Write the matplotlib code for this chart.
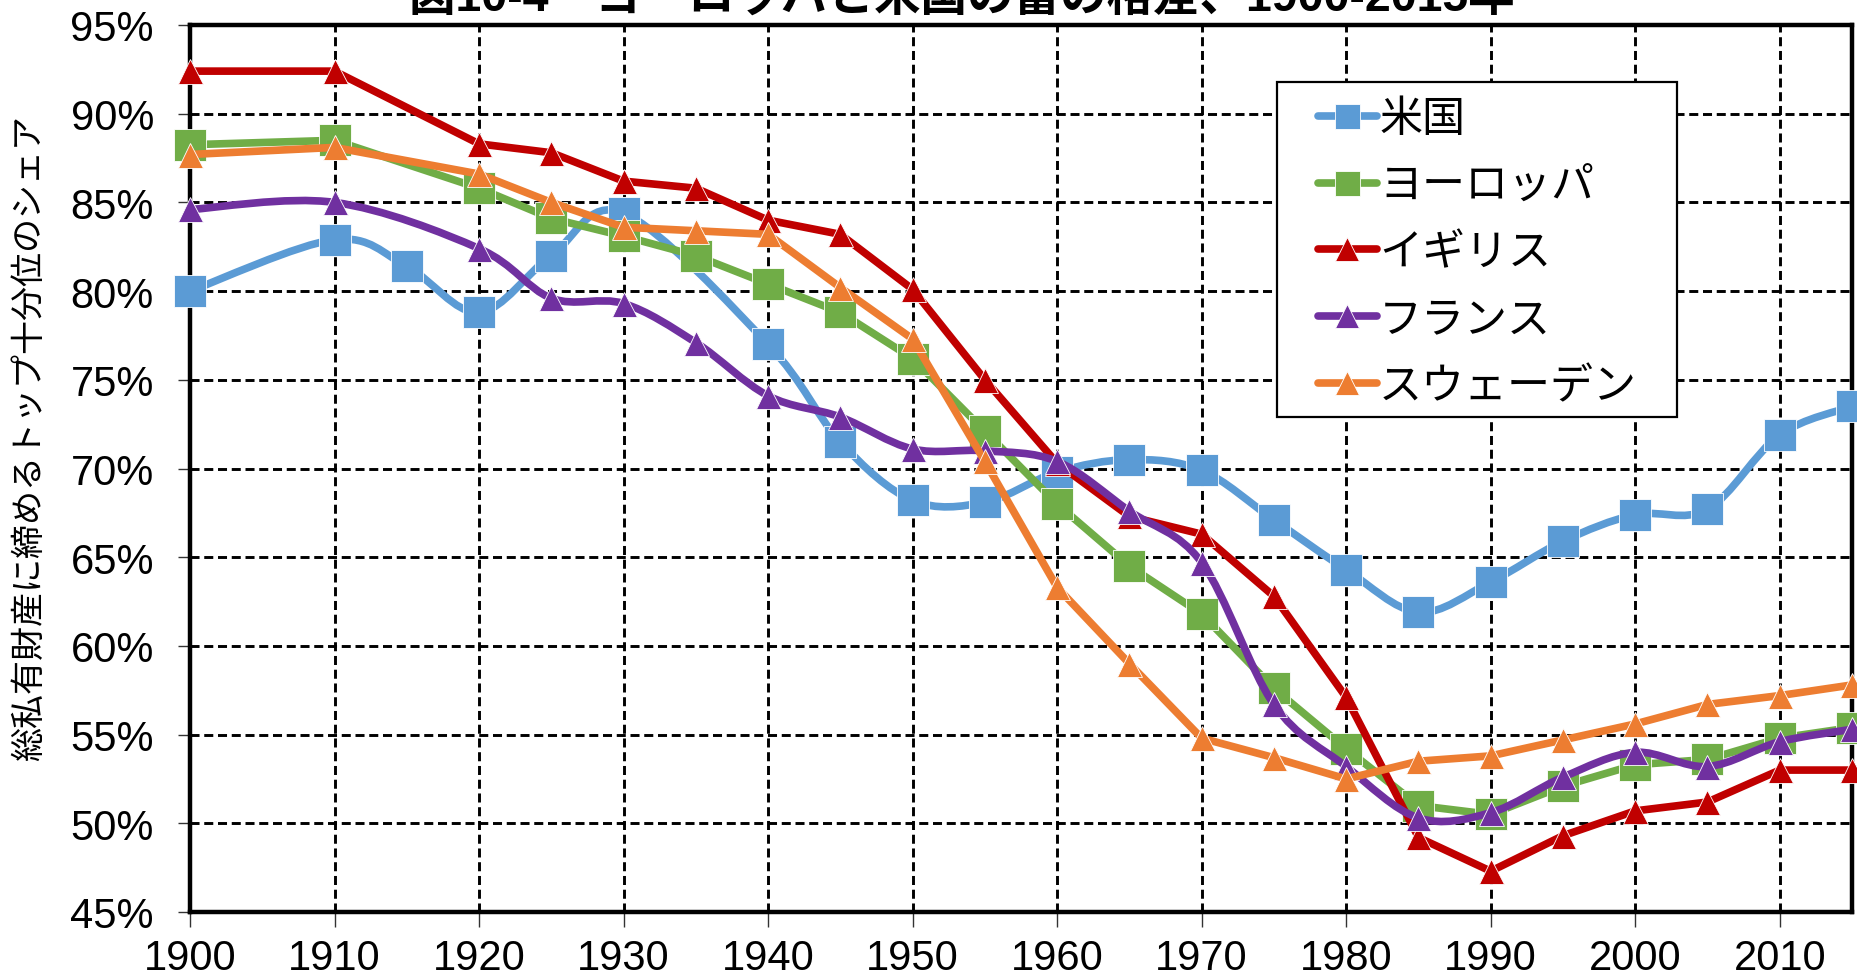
import matplotlib
matplotlib.use("Agg")
import matplotlib.pyplot as plt
import numpy as np
from matplotlib.path import Path
from matplotlib.patches import PathPatch, Rectangle
from matplotlib.lines import Line2D
from matplotlib.ticker import FuncFormatter, MultipleLocator

plt.rcParams['lines.scale_dashes'] = False

# data (share in %)
years = [1900, 1910, 1920, 1925, 1930, 1935, 1940, 1945, 1950, 1955, 1960,
         1965, 1970, 1975, 1980, 1985, 1990, 1995, 2000, 2005, 2010, 2015]
us_years = [1900, 1910, 1915, 1920, 1925, 1930, 1940, 1945, 1950, 1955, 1960,
            1965, 1970, 1975, 1980, 1985, 1990, 1995, 2000, 2005, 2010, 2015]
us = [80.0, 82.9, 81.4, 78.8, 82.0, 84.4, 77.0, 71.5, 68.2, 68.1, 69.8,
      70.5, 69.9, 67.1, 64.3, 61.9, 63.6, 65.9, 67.4, 67.7, 71.9, 73.5]
europe = [88.25, 88.5, 85.8, 84.1, 83.1, 82.0, 80.4, 78.8, 76.2, 72.1, 68.0,
          64.5, 61.8, 57.6, 54.2, 51.0, 50.5, 52.1, 53.3, 53.6, 54.8, 55.4]
uk = [92.4, 92.4, 88.3, 87.8, 86.2, 85.8, 84.0, 83.2, 80.1, 75.0, 70.3,
      67.3, 66.3, 62.8, 57.1, 49.2, 47.3, 49.3, 50.7, 51.2, 53.0, 53.0]
france = [84.6, 85.0, 82.4, 79.6, 79.3, 77.1, 74.1, 72.9, 71.1, 71.0, 70.4,
          67.6, 64.7, 56.7, 53.2, 50.3, 50.6, 52.6, 54.0, 53.2, 54.6, 55.3]
sweden = [87.7, 88.1, 86.6, 85.0, 83.6, 83.4, 83.2, 80.2, 77.3, 70.4, 63.3,
          59.0, 54.8, 53.7, 52.5, 53.5, 53.8, 54.7, 55.6, 56.7, 57.2, 57.8]

names = ['米国', 'ヨーロッパ', 'イギリス', 'フランス', 'スウェーデン']
colors = ['#5B9BD5', '#70AD47', '#C00000', '#7030A0', '#ED7D31']
markers = ['s', 's', '^', '^', '^']
smoothed = [True, False, False, True, False]

title = '図10-4　ヨーロッパと米国の富の格差、1900-2015年'
ylabel = '総私有財産に締めるトップ十分位のシェア'


def line_path(x, y, smooth):
    # Excel-like smoothed line: cubic bezier segments through every point
    pts = np.column_stack([x, y]).astype(float)
    if not smooth:
        return Path(pts)
    n = len(pts)
    verts = [pts[0]]
    codes = [Path.MOVETO]
    for i in range(n - 1):
        p0 = pts[i - 1] if i > 0 else pts[i]
        p1 = pts[i]
        p2 = pts[i + 1]
        p3 = pts[i + 2] if i + 2 < n else pts[i + 1]
        verts += [p1 + (p2 - p0) / 6.0, p2 - (p3 - p1) / 6.0, p2]
        codes += [Path.CURVE4] * 3
    return Path(verts, codes)


fig = plt.figure(figsize=(18.57, 9.78), dpi=100)
ax = fig.add_axes([190 / 1857, 1 - 913 / 978, 1662 / 1857, 887 / 978])

series = [(us_years, us), (years, europe), (years, uk), (years, france), (years, sweden)]
handles = []
for k, (xs, ys) in enumerate(series):
    z = 3 + k
    patch = PathPatch(line_path(xs, ys, smoothed[k]), facecolor='none',
                      edgecolor=colors[k], lw=5.5, joinstyle='round',
                      capstyle='round', zorder=z, clip_on=False)
    ax.add_patch(patch)
    ms = 23 if markers[k] == 's' else 18
    ax.plot(xs, ys, linestyle='none', marker=markers[k], markersize=ms,
            color=colors[k], markeredgecolor='white', markeredgewidth=0.6,
            zorder=z + 0.5, clip_on=False)
    hms = 18 if markers[k] == 's' else 17.5
    handles.append(Line2D([], [], color=colors[k], lw=5.5, marker=markers[k],
                          markersize=hms, solid_capstyle='round',
                          markeredgecolor='white', markeredgewidth=0.6))

ax.set_xlim(1900, 2015)
ax.set_ylim(45, 95)
ax.yaxis.set_major_locator(MultipleLocator(5))
ax.yaxis.set_major_formatter(FuncFormatter(lambda v, p: '%d%%' % round(v)))
ax.set_xticks(range(1900, 2011, 10))

ax.set_axisbelow(True)
ax.grid(True, color='black', lw=2.1, linestyle='--', dashes=(6.5, 3.4))

for s in ax.spines.values():
    s.set_linewidth(3.2)
    s.set_zorder(2.5)

ax.tick_params(axis='both', direction='out', width=1.0, color='#333333',
               labelsize=30)
ax.tick_params(axis='y', length=9, pad=17)
ax.tick_params(axis='x', length=11, pad=8)
for lab in ax.get_xticklabels() + ax.get_yticklabels():
    lab.set_fontfamily('Liberation Sans')

fig.text(30 / 1857, 1 - 438 / 978, ylabel, rotation=90, ha='center', va='center',
         fontsize=24.5, family=['Noto Sans CJK JP', 'DejaVu Sans'])

fig.text(962 / 1857, 1 - 12 / 978, title, ha='center', va='baseline',
         fontsize=33.5, fontweight='bold', family=['Liberation Sans', 'Noto Sans CJK JP'])

# legend box drawn separately to get Excel-like padding
box = Rectangle((0.654, 0.558), 0.241, 0.378, transform=ax.transAxes,
                facecolor='white', edgecolor='black', lw=1.6, zorder=10,
                clip_on=False)
ax.add_patch(box)
leg = ax.legend(handles, names, loc='upper left', bbox_to_anchor=(0.6787, 0.919),
                frameon=False, borderpad=0, borderaxespad=0, handlelength=1.37,
                handletextpad=0.05, labelspacing=0.53,
                prop={'family': ['Noto Sans CJK JP'], 'size': 31})
leg.set_zorder(11)

fig.savefig('out.png', dpi=100)
